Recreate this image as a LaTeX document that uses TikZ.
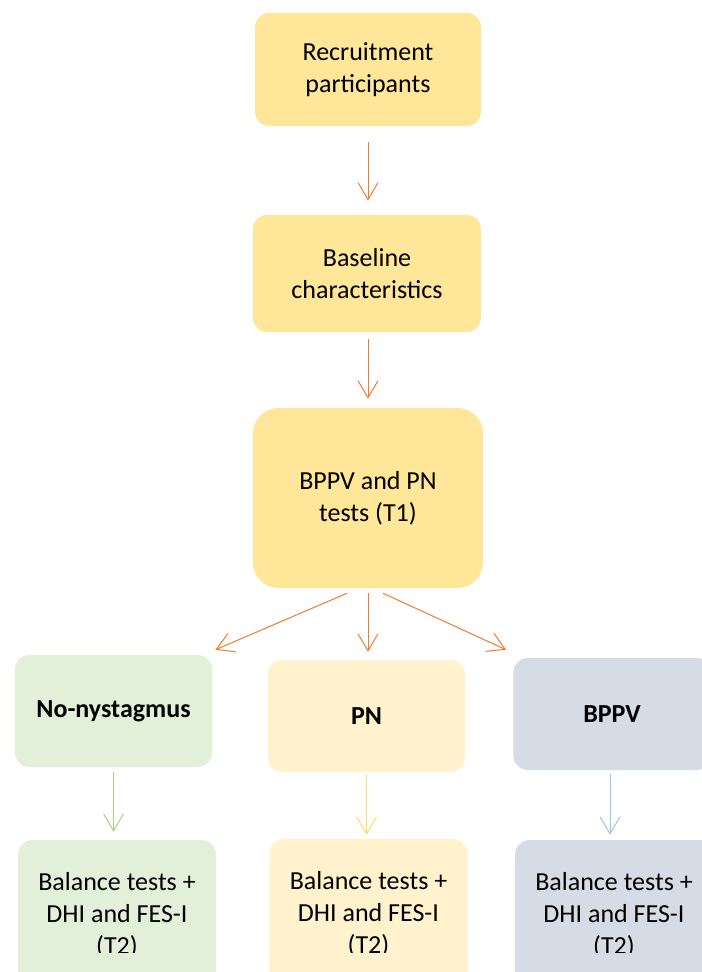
\documentclass[tikz,border=0pt]{standalone}
\usepackage{fontspec}
\setmainfont{Carlito}
\usetikzlibrary{arrows.meta,calc}
\definecolor{stage fill}{HTML}{FFE699}
\definecolor{stage arrow}{HTML}{ED7D31}
\definecolor{nonys fill}{HTML}{E2F0D9}
\definecolor{nonys arrow}{HTML}{A9D18E}
\definecolor{pn fill}{HTML}{FFF2CC}
\definecolor{pn arrow}{HTML}{FFD966}
\definecolor{bppv fill}{HTML}{D6DCE5}
\definecolor{bppv arrow}{HTML}{9DC3E6}
\tikzset{box/.style={rounded corners=11pt, align=center, inner sep=0pt,
        font=\fontsize{19.5}{24}\selectfont},
    stagebox/.style={box, fill=stage fill},
    groupbox/.style={box, minimum width=148pt, minimum height=84pt,
        font=\fontsize{19.5}{24}\selectfont\bfseries},
    outcomebox/.style={box, minimum width=148.5pt, minimum height=112.5pt},
    flow/.style={line width=0.75pt, -{Straight Barb[length=12.75pt, width=15pt]}}}

\begin{document}
\begin{tikzpicture}[x=0.75pt, y=-0.75pt]
    \clip (0,0) rectangle (702,972);
    \node[stagebox, minimum width=169.5pt, minimum height=85pt] (recruit) at (368,69.5) {Recruitment\\participants};
    \node[stagebox, minimum width=171pt, minimum height=88pt] (baseline) at (367,273.5) {Baseline\\characteristics};
    \node[stagebox, minimum width=172.5pt, minimum height=135pt, rounded corners=19pt] (tests) at (368,498) {BPPV and PN\\tests (T1)};
    \node[groupbox, fill=nonys fill] (nonys) at (113.5,711) {No-nystagmus};
    \node[groupbox, fill=pn fill] (pn) at (366.5,716) {PN};
    \node[groupbox, fill=bppv fill] (bppv) at (612,714) {BPPV};
    \node[outcomebox, fill=nonys fill] (nonysout) at (117,915) {Balance tests +\\DHI and FES-I\\(T2)};
    \node[outcomebox, fill=pn fill] (pnout) at (368.5,914) {Balance tests +\\DHI and FES-I\\(T2)};
    \node[outcomebox, fill=bppv fill] (bppvout) at (614,915) {Balance tests +\\DHI and FES-I\\(T2)};
    \fill[nonys fill] (nonysout.west |- 0,953) rectangle (nonysout.east |- 0,972);
    \fill[pn fill] (pnout.west |- 0,953) rectangle (pnout.east |- 0,972);
    \fill[bppv fill] (bppvout.west |- 0,953) rectangle (bppvout.east |- 0,972);
    \draw[flow, stage arrow] ($(recruit.south)+(0,16)$) -- ($(recruit.south |- baseline.north)+(0,-14)$);
    \draw[flow, stage arrow] ($(baseline.south)+(1,7)$) -- ($(baseline.south |- tests.north)+(1,-9)$);
    \draw[flow, stage arrow] ($(tests.south)+(-21,5)$) -- ($(nonys.north east)+(3,-5)$);
    \draw[flow, stage arrow] ($(tests.south)+(0,5)$) -- ($(tests.south |- pn.north)+(0,-8)$);
    \draw[flow, stage arrow] ($(tests.south)+(15,5)$) -- ($(bppv.north west)+(-7,-8)$);
    \draw[flow, nonys arrow] ($(nonys.south)+(0,5)$) -- ($(nonys.south |- nonysout.north)+(0,-8)$);
    \draw[flow, pn arrow] ($(pn.south)+(0,3)$) -- ($(pn.south |- pnout.north)+(0,-4)$);
    \draw[flow, bppv arrow] ($(bppv.south)+(-2,4)$) -- ($(bppv.south |- bppvout.north)+(-2,-5)$);
\end{tikzpicture}
\end{document}
